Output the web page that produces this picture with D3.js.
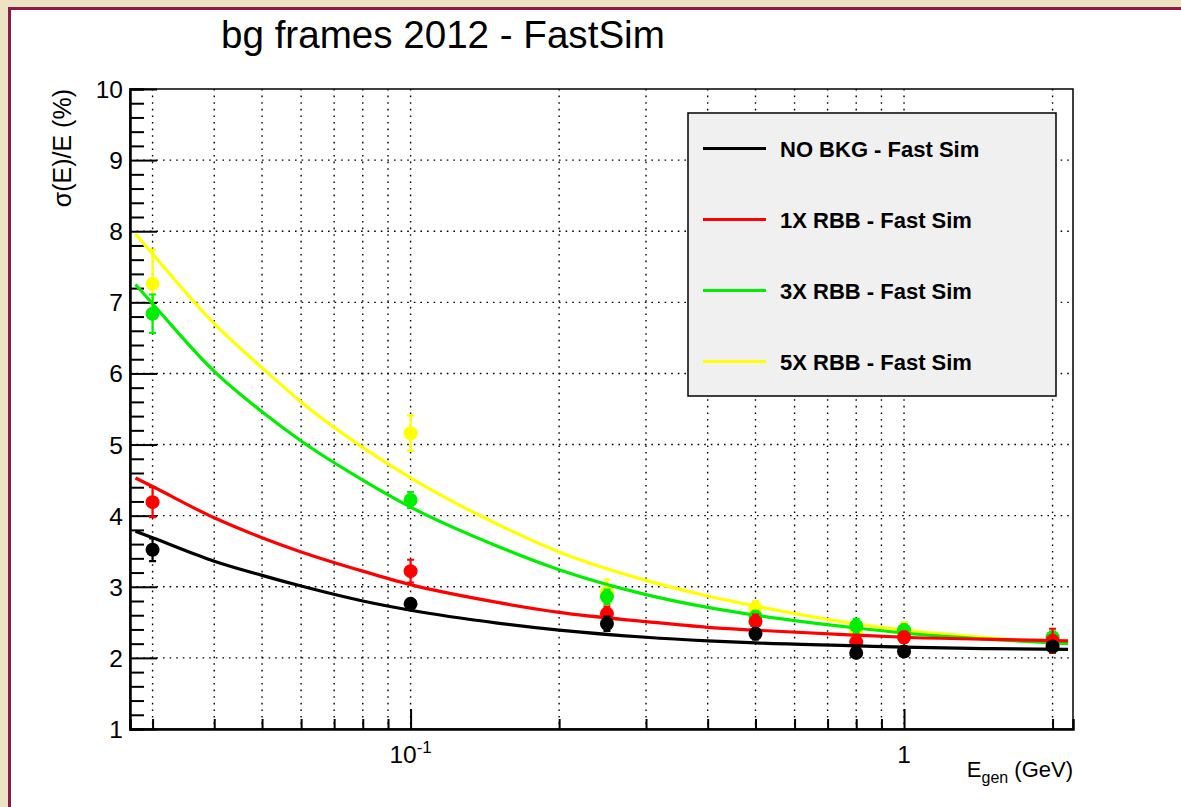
<!DOCTYPE html>
<html>
<head>
<meta charset="utf-8">
<script src="https://cdn.jsdelivr.net/npm/d3@7"></script>
<style>
  html, body { margin: 0; padding: 0; background: #ece2c4; overflow: hidden; }
  svg { display: block; }
</style>
</head>
<body>
<svg id="chart"></svg>
<script>
const width = 1181
const height = 807
const frame = { left: 130, right: 1073, top: 89, bottom: 729 }
const font = 'Liberation Sans, Arial, Helvetica, sans-serif'

// measured points
const energies = [0.03, 0.1, 0.25, 0.5, 0.8, 1.0, 2.0]
const noBkgValues = [3.52, 2.76, 2.48, 2.34, 2.07, 2.09, 2.16]
const noBkgErrors = [0.16, 0.04, 0.1, 0.08, 0.06, 0.05, 0.06]
const rbb1Values = [4.19, 3.22, 2.62, 2.51, 2.22, 2.29, 2.24]
const rbb1Errors = [0.21, 0.16, 0.1, 0.1, 0.1, 0.08, 0.17]
const rbb3Values = [6.84, 4.22, 2.86, 2.58, 2.45, 2.39, 2.29]
const rbb3Errors = [0.27, 0.11, 0.1, 0.08, 0.1, 0.08, 0.08]
const rbb5Values = [7.26, 5.16, 2.92, 2.70, 2.36, 2.37, 2.27]
const rbb5Errors = [0.48, 0.25, 0.18, 0.1, 0.12, 0.13, 0.08]

// fitted curves
const fitEnergies = [0.0277, 0.03, 0.04, 0.05, 0.06, 0.08, 0.1, 0.15, 0.2, 0.3, 0.4, 0.5, 0.8, 1.0, 1.5, 2.15]
const noBkgFit = [3.78, 3.69, 3.36, 3.16, 3.01, 2.80, 2.67, 2.49, 2.39, 2.29, 2.24, 2.21, 2.17, 2.15, 2.13, 2.12]
const rbb1Fit = [4.53, 4.41, 3.97, 3.69, 3.49, 3.22, 3.03, 2.78, 2.64, 2.51, 2.43, 2.39, 2.32, 2.29, 2.26, 2.24]
const rbb3Fit = [7.25, 6.98, 6.03, 5.46, 5.05, 4.5, 4.12, 3.57, 3.24, 2.89, 2.71, 2.60, 2.42, 2.35, 2.26, 2.20]
const rbb5Fit = [7.96, 7.68, 6.70, 6.08, 5.6, 4.96, 4.53, 3.88, 3.49, 3.09, 2.87, 2.73, 2.48, 2.39, 2.28, 2.21]

const labels = ['NO BKG - Fast Sim', '1X RBB - Fast Sim', '3X RBB - Fast Sim', '5X RBB - Fast Sim']
const colors = ['#000000', '#ff0000', '#00ee00', '#ffff00']

const series = [
  { label: labels[0], color: colors[0], values: noBkgValues, errors: noBkgErrors, fit: noBkgFit },
  { label: labels[1], color: colors[1], values: rbb1Values, errors: rbb1Errors, fit: rbb1Fit },
  { label: labels[2], color: colors[2], values: rbb3Values, errors: rbb3Errors, fit: rbb3Fit },
  { label: labels[3], color: colors[3], values: rbb5Values, errors: rbb5Errors, fit: rbb5Fit }
]

const x = d3.scaleLog().domain([0.027, 2.2]).range([frame.left, frame.right])
const y = d3.scaleLinear().domain([1, 10]).range([frame.bottom, frame.top])

const svg = d3.select('#chart')
  .attr('width', width)
  .attr('height', height)
  .attr('font-family', font)

/**
 * Paper background with the white canvas and its coloured border.
 */
function drawBackground () {
  svg.append('rect')
    .attr('width', width)
    .attr('height', height)
    .attr('fill', '#ece2c4')
  svg.append('rect')
    .attr('x', 9.5)
    .attr('y', 8.5)
    .attr('width', width + 20)
    .attr('height', height + 20)
    .attr('fill', '#ffffff')
    .attr('stroke', '#8c1a4b')
    .attr('stroke-width', 3)
}

/**
 * Dotted grid on every tick of both axes.
 */
function drawGrid () {
  const grid = svg.append('g')
    .attr('stroke', '#000')
    .attr('stroke-width', 1.4)
    .attr('stroke-dasharray', '1.6,5')

  grid.selectAll('.vgrid')
    .data(x.ticks())
    .enter()
    .append('line')
    .attr('x1', d => x(d))
    .attr('x2', d => x(d))
    .attr('y1', frame.top)
    .attr('y2', frame.bottom)

  grid.selectAll('.hgrid')
    .data(d3.range(2, 10))
    .enter()
    .append('line')
    .attr('x1', frame.left)
    .attr('x2', frame.right)
    .attr('y1', d => y(d))
    .attr('y2', d => y(d))
}

/**
 * Frame, ticks and tick labels.
 */
function drawAxes () {
  const axes = svg.append('g')

  axes.append('rect')
    .attr('x', frame.left)
    .attr('y', frame.top)
    .attr('width', frame.right - frame.left)
    .attr('height', frame.bottom - frame.top)
    .attr('fill', 'none')
    .attr('stroke', '#000')
    .attr('stroke-width', 1.5)

  const yAxis = d3.axisRight(y)
    .tickValues(d3.range(1, 10.01, 0.2))
    .tickSize(14)
    .tickFormat('')
  axes.append('g')
    .attr('transform', `translate(${frame.left},0)`)
    .call(yAxis)
    .call(g => g.select('.domain').attr('stroke-width', 2.5))
    .call(g => g.selectAll('.tick line')
      .attr('stroke-width', 2)
      .attr('x2', d => Math.abs(d - Math.round(d)) < 1e-6 ? 27 : 14))

  const xAxis = d3.axisTop(x)
    .tickValues(x.ticks())
    .tickSize(10)
    .tickFormat('')
  axes.append('g')
    .attr('transform', `translate(0,${frame.bottom})`)
    .call(xAxis)
    .call(g => g.select('.domain').attr('stroke-width', 2.5))
    .call(g => g.selectAll('.tick line')
      .attr('stroke-width', 2)
      .attr('y2', d => (Math.abs(Math.log10(d) - Math.round(Math.log10(d))) < 1e-6) ? -20 : -10))

  axes.selectAll('.ylab')
    .data(d3.range(1, 11))
    .enter()
    .append('text')
    .attr('x', frame.left - 7)
    .attr('y', d => y(d) + 9)
    .attr('text-anchor', 'end')
    .attr('font-size', 24.5)
    .text(d => d)

  const tenth = axes.append('text')
    .attr('x', x(0.1))
    .attr('y', 763)
    .attr('text-anchor', 'middle')
    .attr('font-size', 24.5)
  tenth.append('tspan').text('10')
  tenth.append('tspan').attr('dy', -10).attr('font-size', 17).text('-1')

  axes.append('text')
    .attr('x', x(1))
    .attr('y', 763)
    .attr('text-anchor', 'middle')
    .attr('font-size', 24.5)
    .text('1')

  const xTitle = axes.append('text')
    .attr('x', frame.right)
    .attr('y', 777)
    .attr('text-anchor', 'end')
    .attr('font-size', 22)
  xTitle.append('tspan').text('E')
  xTitle.append('tspan').attr('dy', 6).attr('font-size', 16).text('gen')
  xTitle.append('tspan').attr('dy', -6).text(' (GeV)')

  axes.append('text')
    .attr('transform', `translate(71,${frame.top}) rotate(-90)`)
    .attr('text-anchor', 'end')
    .attr('font-size', 25)
    .text('σ(E)/E (%)')

  svg.append('text')
    .attr('x', 221)
    .attr('y', 48)
    .attr('font-size', 38.6)
    .text('bg frames 2012 - FastSim')
}

/**
 * Fit curve, error bars and markers for one series.
 *
 * @param {object} s - The series.
 */
function drawSeries (s) {
  const g = svg.append('g')
  const line = d3.line()
    .x(d => x(d[0]))
    .y(d => y(d[1]))
    .curve(d3.curveMonotoneX)

  g.append('path')
    .datum(fitEnergies.map((e, i) => [e, s.fit[i]]))
    .attr('d', line)
    .attr('fill', 'none')
    .attr('stroke', s.color)
    .attr('stroke-width', 3.2)

  const pts = energies.map((e, i) => ({ e, v: s.values[i], err: s.errors[i] }))

  g.selectAll('.bar')
    .data(pts)
    .enter()
    .append('path')
    .attr('d', d => {
      const cx = x(d.e)
      const top = y(d.v + d.err)
      const bot = y(d.v - d.err)
      return `M${cx},${top}V${bot}M${cx - 3.5},${top}H${cx + 3.5}M${cx - 3.5},${bot}H${cx + 3.5}`
    })
    .attr('fill', 'none')
    .attr('stroke', s.color)
    .attr('stroke-width', 2.2)

  g.selectAll('circle')
    .data(pts)
    .enter()
    .append('circle')
    .attr('cx', d => x(d.e))
    .attr('cy', d => y(d.v))
    .attr('r', 7)
    .attr('fill', s.color)
}

/**
 * Legend box in the upper right of the frame.
 */
function drawLegend () {
  const legend = svg.append('g')
  legend.append('rect')
    .attr('x', 688)
    .attr('y', 113)
    .attr('width', 368)
    .attr('height', 283)
    .attr('fill', '#f0f0f0')
    .attr('stroke', '#000')
    .attr('stroke-width', 1.5)

  const item = legend.selectAll('.item')
    .data(series)
    .enter()
    .append('g')
    .attr('transform', (d, i) => `translate(0,${148.5 + i * 71})`)
  item.append('line')
    .attr('x1', 703)
    .attr('x2', 766)
    .attr('stroke', d => d.color)
    .attr('stroke-width', 3.2)
  item.append('text')
    .attr('x', 780)
    .attr('y', 8.5)
    .attr('font-size', 22)
    .attr('font-weight', 'bold')
    .text(d => d.label)
}

drawBackground()
drawGrid()
drawAxes()
series.slice().reverse().forEach(drawSeries)
drawLegend()
</script>
</body>
</html>
